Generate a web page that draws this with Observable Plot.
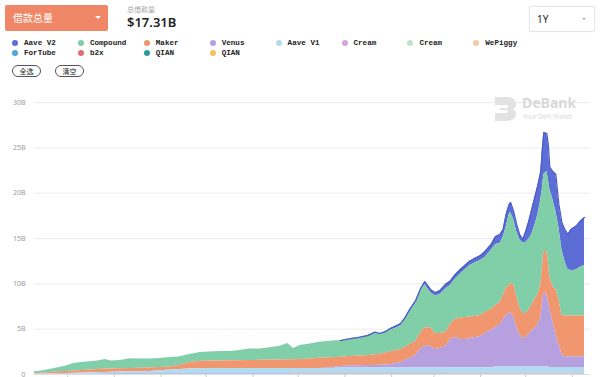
<!DOCTYPE html>
<html><head><meta charset="utf-8">
<script src="https://cdn.jsdelivr.net/npm/d3@7"></script>
<script src="https://cdn.jsdelivr.net/npm/@observablehq/plot@0.6"></script>
<style>
html,body{margin:0;padding:0;background:#fff}
body{width:600px;height:377px;overflow:hidden;position:relative;font-family:"Noto Sans","Noto Sans CJK SC",sans-serif}
#sel{position:absolute;left:5px;top:5px;width:103px;height:26px;background:#ef8666;border-radius:2px;color:#fff;font-family:"Noto Sans CJK SC",sans-serif;font-size:10px;line-height:26px;box-sizing:border-box;padding-left:8px}
#sel .caret{position:absolute;left:90px;top:11px;width:0;height:0;border-left:3px solid transparent;border-right:3px solid transparent;border-top:3px solid #fff}
#sub{position:absolute;left:127px;top:4px;font-family:"Noto Sans CJK SC",sans-serif;font-size:7px;color:#a8a8a8}
#big{position:absolute;left:127px;top:13px;font-size:13px;font-weight:600;color:#222;font-family:"Noto Sans",sans-serif}
#period{position:absolute;left:529px;top:6px;width:66px;height:26px;box-sizing:border-box;border:1px solid #e6e6e6;border-radius:2px;box-shadow:0 0 2px rgba(0,0,0,0.06);font-size:10px;color:#222;line-height:24px;padding-left:7px}
#period .caret{position:absolute;left:52px;top:11px;width:0;height:0;border-left:2.5px solid transparent;border-right:2.5px solid transparent;border-top:2.5px solid #aaa}
.li{position:absolute;height:10px;line-height:10px;font-family:"Liberation Mono","DejaVu Sans Mono",monospace;font-weight:bold;font-size:7.6px;color:#222;white-space:nowrap}
.li .dot{display:inline-block;width:6px;height:6px;border-radius:50%;margin-right:6px;vertical-align:-0.5px}
.pill{position:absolute;top:65px;height:12px;width:29px;box-sizing:border-box;border:1px solid #555;border-radius:7px;font-family:"Noto Sans CJK SC",sans-serif;font-size:7px;line-height:10px;text-align:center;color:#222}
#chart{position:absolute;left:0;top:87px}
#wm{position:absolute;left:494px;top:96px}
#wm .t1{position:absolute;left:28px;top:-1px;font-family:"Noto Sans",sans-serif;font-weight:bold;font-size:14px;color:#d9d9d9;line-height:16px}
#wm .t2{position:absolute;left:29px;top:17px;font-family:"Noto Sans",sans-serif;font-size:6.4px;color:#d9d9d9;white-space:nowrap;line-height:8px}
</style></head><body>
<div id="sel">借款总量<span class="caret"></span></div>
<div id="sub">总借款量</div>
<div id="big">$17.31B</div>
<div id="period">1Y<span class="caret"></span></div>
<div id="legend"></div>
<div class="pill" style="left:12px">全选</div>
<div class="pill" style="left:55px">清空</div>
<div id="chart"></div>
<div id="wm">
<svg width="24" height="26" viewBox="0 0 24 26"><path d="M1,1 H12 C19,1 22,4 22,8 C22,10 21,12 19,13 C21,14 22,16 22,18 C22,22 19,25 12,25 H1 V17 H11 C13,17 14,16.5 14,15.5 C14,14.5 13,14 11,14 H6 V12 H11 C13,12 14,11.5 14,10.5 C14,9.5 13,9 11,9 H1 Z" fill="#e2e2e2"/></svg>
<div class="t1">DeBank</div>
<div class="t2">Your DeFi Wallet</div>
</div>
<script>
// ---- data ----
const startDate = "2020-06-09";
const days = [0,5,10,15,21,26,31,37,42,
47,51,57,63,70,76,83,90,96,103,110,116,123,130,136,143,150,156,163,168,
172,176,183,189,196,203,209,216,221,226,229,233,236,239,243,246,249,253,256,259,263,266,269,273,276,279,283,286,289,293,296,299,303,306,309,311,313,315,316,318,320,322,324,326,328,330,332,334,336,337,338,340,341,342,344,346,348,350,352,354,356,358,360,362,365];

const seriesKeys = ["aaveV2","compound","maker","venus","aaveV1","cream","cream2","wepiggy","fortube","b2x","qian","qian2"];
const seriesLabels = ["Aave V2","Compound","Maker","Venus","Aave V1","Cream","Cream","WePiggy","ForTube","b2x","QIAN","QIAN"];

const aaveV2 = [0,0,0,0,0,0,0,0,0,
0,0,0,0,0,0,0,0,0,0,0,0,0,0,0,0,0,0,0,0,
0,0,0,0,0,0,0.03,0.05,0.06,0.11,0.11,0.11,0.17,0.22,0.22,0.22,0.28,0.28,0.28,0.33,0.33,0.33,0.44,0.5,0.5,0.5,0.5,0.5,0.5,0.52,0.55,0.66,0.66,0.88,0.99,0.88,1.43,1.10,1.10,0.88,0.77,0.55,0.39,1.21,1.99,2.76,3.09,3.31,3.09,4.41,4.63,4.19,3.86,2.43,3.09,4.08,2.54,2.98,3.53,3.86,4.52,4.74,4.85,5.07,5.29];
const compound = [0.17,0.24,0.33,0.44,0.61,0.83,0.88,0.90,0.94,
1.05,0.88,0.92,1.07,1.03,0.99,0.99,1.05,0.94,0.88,0.96,0.99,1.04,1.03,1.13,1.27,1.25,1.36,1.51,1.79,
1.22,1.54,1.64,1.78,1.82,1.83,1.93,2.04,2.15,2.39,2.21,2.26,2.37,2.43,2.65,3.09,3.58,4.25,4.58,4.78,3.86,4.19,4.30,4.85,4.30,4.41,4.91,5.29,5.68,5.96,6.07,6.07,6.51,6.73,6.51,6.40,6.73,7.83,7.83,7.17,7.17,7.50,7.78,7.83,7.83,7.83,8.16,8.82,9.38,8.82,8.49,8.82,9.04,9.71,9.60,8.60,7.94,7.28,6.01,5.15,5.04,5.04,5.15,5.37,5.59];
const maker = [0.07,0.09,0.14,0.18,0.22,0.25,0.29,0.32,0.35,
0.39,0.36,0.36,0.38,0.38,0.39,0.36,0.33,0.44,0.72,0.81,0.83,0.84,0.85,0.86,0.88,0.90,0.93,0.95,0.97,
0.98,0.99,1.06,1.13,1.14,1.04,1.05,1.07,1.10,1.19,1.19,1.32,1.43,1.43,1.43,1.43,1.54,1.54,1.76,2.01,2.04,1.76,1.65,1.54,1.65,1.99,2.37,2.43,2.37,2.32,2.32,2.32,2.32,2.43,2.43,2.76,2.98,3.09,3.25,3.53,3.42,2.98,2.76,2.65,2.65,2.87,3.20,3.31,3.64,3.86,4.63,4.74,4.41,3.53,3.86,4.96,4.96,4.30,4.47,4.50,4.50,4.50,4.50,4.50,4.50];
const venus = [0,0,0,0,0,0,0,0,0,
0,0,0,0,0,0,0,0,0,0,0,0,0,0,0,0,0,0,0,0,
0,0,0,0,0.06,0.14,0.20,0.23,0.25,0.25,0.28,0.31,0.36,0.47,0.58,0.81,1.03,1.36,2.02,2.40,2.40,2.02,2.13,2.35,3.12,3.34,3.12,3.12,3.23,3.34,3.45,3.78,4.11,4.36,4.69,5.13,5.68,5.90,5.96,5.57,4.36,3.58,3.14,3.25,3.58,3.92,4.25,4.58,5.46,6.89,8.11,8.00,7.22,6.40,5.07,3.64,2.54,1.43,1.21,1.16,1.16,1.16,1.16,1.16,1.16];
const aaveV1 = [0.02,0.03,0.06,0.08,0.09,0.11,0.13,0.15,0.18,
0.14,0.17,0.19,0.21,0.23,0.25,0.33,0.42,0.47,0.53,0.58,0.58,0.58,0.58,0.58,0.58,0.58,0.58,0.58,0.58,
0.50,0.50,0.50,0.50,0.50,0.57,0.57,0.57,0.57,0.57,0.57,0.57,0.57,0.57,0.57,0.57,0.57,0.57,0.57,0.57,0.57,0.57,0.57,0.57,0.57,0.57,0.57,0.57,0.57,0.57,0.57,0.57,0.57,0.66,0.66,0.66,0.66,0.66,0.66,0.66,0.66,0.66,0.66,0.66,0.66,0.66,0.66,0.66,0.66,0.66,0.66,0.66,0.66,0.61,0.61,0.61,0.61,0.61,0.61,0.61,0.61,0.61,0.61,0.61,0.61];
const cream = [0.02,0.02,0.02,0.02,0.02,0.02,0.02,0.02,0.02,
0.05,0.05,0.05,0.05,0.05,0.05,0.05,0.05,0.05,0.05,0.05,0.05,0.05,0.05,0.05,0.05,0.05,0.05,0.05,0.05,
0.10,0.10,0.10,0.10,0.10,0.10,0.10,0.10,0.10,0.10,0.10,0.10,0.10,0.10,0.10,0.10,0.10,0.10,0.10,0.10,0.10,0.10,0.10,0.10,0.10,0.10,0.10,0.10,0.10,0.10,0.10,0.10,0.10,0.10,0.10,0.10,0.10,0.10,0.10,0.10,0.10,0.10,0.10,0.10,0.10,0.10,0.10,0.10,0.10,0.10,0.10,0.10,0.10,0.10,0.10,0.10,0.10,0.10,0.10,0.10,0.10,0.10,0.10,0.10,0.10];
const cream2 = [0,0,0,0,0,0,0,0,0,
0.01,0.01,0.01,0.01,0.01,0.01,0.01,0.01,0.01,0.01,0.01,0.01,0.01,0.01,0.01,0.01,0.01,0.01,0.01,0.01,
0.03,0.03,0.03,0.03,0.03,0.03,0.03,0.03,0.03,0.03,0.03,0.03,0.03,0.03,0.03,0.03,0.03,0.03,0.03,0.03,0.03,0.03,0.03,0.03,0.03,0.03,0.03,0.03,0.03,0.03,0.03,0.03,0.03,0.03,0.03,0.03,0.03,0.03,0.03,0.03,0.03,0.03,0.03,0.03,0.03,0.03,0.03,0.03,0.03,0.03,0.03,0.03,0.03,0.03,0.03,0.03,0.03,0.03,0.03,0.03,0.03,0.03,0.03,0.03,0.03];
const wepiggy = [0,0,0,0,0,0,0,0,0,
0,0,0,0,0,0,0,0,0,0,0,0,0,0,0,0,0,0,0,0,
0,0,0,0,0,0,0,0,0,0,0,0,0,0,0,0,0,0,0,0,0,0,0,0,0.01,0.01,0.01,0.01,0.01,0.01,0.01,0.01,0.01,0.01,0.01,0.01,0.01,0.01,0.01,0.01,0.01,0.01,0.01,0.01,0.01,0.01,0.01,0.01,0.01,0.01,0.01,0.01,0.01,0.01,0.01,0.01,0.01,0.01,0.01,0.01,0.01,0.01,0.01,0.01,0.01];
const fortube = [0.01,0.01,0.01,0.01,0.01,0.01,0.01,0.01,0.01,
0.02,0.02,0.02,0.02,0.02,0.02,0.02,0.02,0.02,0.02,0.02,0.02,0.02,0.02,0.02,0.02,0.02,0.02,0.02,0.02,
0.02,0.02,0.02,0.02,0.02,0.02,0.02,0.02,0.02,0.02,0.02,0.02,0.02,0.02,0.02,0.02,0.02,0.02,0.02,0.02,0.02,0.02,0.02,0.02,0.02,0.02,0.02,0.02,0.02,0.02,0.02,0.02,0.02,0.02,0.02,0.02,0.02,0.02,0.02,0.02,0.02,0.02,0.02,0.02,0.02,0.02,0.02,0.02,0.02,0.02,0.02,0.02,0.02,0.02,0.02,0.02,0.02,0.02,0.02,0.02,0.02,0.02,0.02,0.02,0.02];
const b2x = [0,0,0,0,0,0,0,0,0,
0,0,0,0,0,0,0,0,0,0,0,0,0,0,0,0,0,0,0,0,
0.005,0.005,0.005,0.005,0.005,0.005,0.005,0.005,0.005,0.005,0.005,0.005,0.005,0.005,0.005,0.005,0.005,0.005,0.005,0.005,0.005,0.005,0.005,0.005,0.005,0.005,0.005,0.005,0.005,0.005,0.005,0.005,0.005,0.005,0.005,0.005,0.005,0.005,0.005,0.005,0.005,0.005,0.005,0.005,0.005,0.005,0.005,0.005,0.005,0.005,0.005,0.005,0.005,0.005,0.005,0.005,0.005,0.005,0.005,0.005,0.005,0.005,0.005,0.005,0.005];
const qian = [0,0,0,0,0,0,0,0,0,
0,0,0,0,0,0,0,0,0,0,0,0,0,0,0,0,0,0,0,0,
0.002,0.002,0.002,0.002,0.002,0.002,0.002,0.002,0.002,0.002,0.002,0.002,0.002,0.002,0.002,0.002,0.002,0.002,0.002,0.002,0.002,0.002,0.002,0.002,0.002,0.002,0.002,0.002,0.002,0.002,0.002,0.002,0.002,0.002,0.002,0.002,0.002,0.002,0.002,0.002,0.002,0.002,0.002,0.002,0.002,0.002,0.002,0.002,0.002,0.002,0.002,0.002,0.002,0.002,0.002,0.002,0.002,0.002,0.002,0.002,0.002,0.002,0.002,0.002,0.002];
const qian2 = qian.slice();

const yTicks = [0,5,10,15,20,25,30];

// ---- style ----
const seriesColors = ["#5d6dd6","#80cfa8","#f0976f","#b6a0e0","#b3dbf0","#d8a3e0","#bde2cb","#f6c7a8","#4ea4dc","#e06e6e","#2f9a9a","#f0c15e"];

// legend
const legend = document.getElementById("legend");
seriesLabels.forEach((lab,i)=>{
  const col=i%8,row=Math.floor(i/8);
  const el=document.createElement("div");
  el.className="li";
  el.style.left=(12+65.9*col)+"px";
  el.style.top=(38+10*row)+"px";
  el.innerHTML=`<span class="dot" style="background:${seriesColors[i]}"></span>${lab}`;
  legend.appendChild(el);
});

const start = new Date(startDate+"T00:00:00Z");
const dates = days.map(d=>d3.utcDay.offset(start,d));
const valueSets = [aaveV2,compound,maker,venus,aaveV1,cream,cream2,wepiggy,fortube,b2x,qian,qian2];
const table = [];
seriesKeys.forEach((k,i)=>valueSets[i].forEach((v,j)=>table.push({date:dates[j],key:k,value:v})));
const stackOrder = seriesKeys.slice().reverse();
const totals = dates.map((d,j)=>({date:d,value:d3.sum(valueSets,s=>s[j])}));
const topLine = totals.filter((t,j)=>aaveV2[j]>0 || (j+1<aaveV2.length && aaveV2[j+1]>0));

const chart = Plot.plot({
  width:600, height:317, marginTop:15, marginBottom:30, marginLeft:34, marginRight:10,
  style:{fontSize:"7px", fontFamily:"Noto Sans, sans-serif", color:"#9b9b9b", background:"transparent", overflow:"visible"},
  x:{type:"utc", domain:[start, d3.utcDay.offset(start,365)], range:[34,584], label:null},
  y:{domain:[0,30], label:null},
  color:{domain:seriesKeys, range:seriesColors},
  marks:[
    Plot.gridY(yTicks,{stroke:"#ebebeb", strokeOpacity:1}),
    Plot.axisY(yTicks,{tickSize:0, tickPadding:9, tickFormat:d=>d===0?"0":d+"B", fill:"#9b9b9b", label:null}),
    Plot.areaY(table,{x:"date", y:"value", z:"key", fill:"key", order:stackOrder}),
    Plot.lineY(topLine,{x:"date", y:"value", stroke:"#4d5cc8", strokeWidth:1.2}),
    Plot.ruleY([0],{stroke:"#e0e0e0"}),
    Plot.axisX({ticks:d3.utcMonth.every(1), tickSize:3, stroke:"#ccc", tickFormat:()=>"", label:null})
  ]
});
document.getElementById("chart").appendChild(chart);
</script>
</body></html>
